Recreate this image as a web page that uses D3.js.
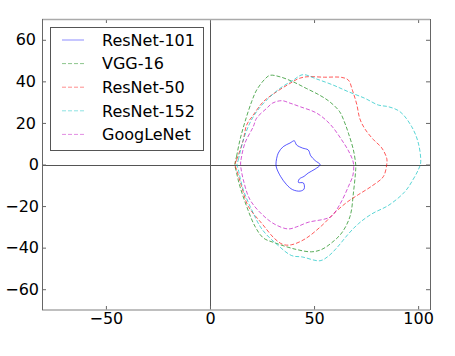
<!DOCTYPE html>
<html><head><meta charset="utf-8">
<script src="https://cdn.jsdelivr.net/npm/d3@7"></script>
<style>body{margin:0;background:#fff}svg{display:block}text{font-family:"DejaVu Sans",sans-serif}</style>
</head><body>
<svg id="c" width="455" height="356"></svg>
<script>
const seriesNames = ["ResNet-101","VGG-16","ResNet-50","ResNet-152","GoogLeNet"];
const seriesColors = ["#0000ff","#008000","#ff0000","#00bfbf","#bf00bf"];
const resnet101 = [[31.7,0.3],[32.8,5.5],[35.2,8.6],[38.4,10.3],[40.5,11.4],[41.6,9.4],[44.5,7.9],[47.2,7.0],[48.4,4.2],[50.5,1.9],[52.9,-0.1],[50.5,-2.2],[47.2,-4.1],[45.2,-5.7],[42.9,-7.0],[42.5,-8.6],[44.9,-8.9],[45.2,-11.8],[43.3,-12.8],[39.7,-12.1],[36.8,-9.7],[33.9,-5.7],[32.0,-1.7]];
const vgg16 = [[12.0,0],[12.8,4],[14.4,11.8],[16.8,20.5],[20.0,30.2],[22.4,35.8],[26.4,41.1],[28.8,42.9],[33.6,42.2],[39.9,39.8],[46.3,36.6],[52.6,33.4],[57.5,30.2],[62.3,25.4],[64.8,19.9],[66.5,15.1],[68.9,7.0],[70.0,0],[70.0,-2.5],[68.9,-13.7],[67.3,-24.9],[63.3,-32.9],[58.4,-37.7],[53.6,-40.9],[48.8,-42.0],[41.6,-40.9],[31.2,-37.7],[25.6,-35.3],[21.6,-29.7],[17.6,-20.1],[14.4,-10.6],[12.8,-4.1]];
const resnet50 = [[12.0,0],[12.8,2.2],[16.0,11.8],[17.6,19.0],[20.8,23.8],[25.6,30.2],[32.0,35.0],[38.4,39.0],[42.5,41.3],[46.5,42.2],[55,42],[63.3,41.9],[66.5,40.6],[68.5,35.5],[70.5,29],[72.0,22],[74.5,17],[78.5,12],[82.5,8],[84.9,3],[84.9,0],[83.3,-5.8],[78,-10.2],[71.3,-14.5],[66,-18],[60.1,-23.0],[53.7,-29.4],[45.7,-35.8],[39.2,-38.6],[35.2,-38.5],[31.2,-35.8],[25.1,-28.6],[18.4,-20.1],[15.2,-10.6],[12.8,-2.5]];
const resnet152 = [[13.0,0],[13.6,2.2],[16.0,11.8],[19.2,20],[22.4,25.4],[27.2,31.0],[33.6,36.6],[40.0,40.6],[44.6,43.2],[51.3,41.1],[59.2,38.2],[66.5,35.0],[74.5,31.8],[80.9,28.6],[85.7,27.8],[91.3,25.4],[96.9,18.2],[100.1,10.3],[101.2,0.7],[100.1,-2.5],[97.7,-7],[93.7,-13],[86,-19.5],[77.7,-23.8],[71.3,-28.5],[66.5,-33.4],[61,-40],[57,-44],[52.9,-46.3],[44.4,-44.5],[39.2,-43.8],[32.8,-39],[25.1,-31.3],[20.0,-21.7],[16.0,-12.1],[13.6,-2.5]];
const googlenet = [[14.7,0],[14.9,2.2],[16.8,10.3],[20.8,18.2],[22.4,22.3],[27.2,27.0],[30,29.5],[34.5,30.7],[38.5,29.5],[43.3,27.8],[51.3,24.7],[57.7,19.4],[63.3,11.8],[67.1,5.5],[68.9,0.7],[68.7,-5],[66.5,-10.6],[62.5,-19],[58.4,-24.9],[55.3,-26.2],[47.2,-27.8],[41.6,-30.0],[37.6,-31.0],[31.2,-28.8],[25.1,-24.1],[19.2,-16.9],[16.0,-7.3]];
const seriesData = [resnet101, vgg16, resnet50, resnet152, googlenet];
const xTicks = [-50, 0, 50, 100];
const yTicks = [-60, -40, -20, 0, 20, 40, 60];

const svg = d3.select("#c");
const L = 42, R = 430, T = 19, B = 310;
const x = d3.scaleLinear().domain([-80.7, 105.7]).range([L, R]);
const y = d3.scaleLinear().domain([-70, 70]).range([B, T]);
const fmt = d => d < 0 ? "\u2212" + Math.abs(d) : String(d);

// zero lines
svg.append("line").attr("x1", L).attr("x2", R).attr("y1", Math.round(y(0)) + 0.5).attr("y2", Math.round(y(0)) + 0.5).attr("stroke", "#555").attr("stroke-width", 1);
svg.append("line").attr("y1", T).attr("y2", B).attr("x1", Math.round(x(0)) + 0.5).attr("x2", Math.round(x(0)) + 0.5).attr("stroke", "#555").attr("stroke-width", 1);

// curves
const line = d3.line().x(d => x(d[0])).y(d => y(d[1])).curve(d3.curveCatmullRomClosed.alpha(0.5));
seriesData.forEach((s, i) => {
  svg.append("path").attr("d", line(s)).attr("fill", "none")
    .attr("stroke", seriesColors[i]).attr("stroke-opacity", 0.65).attr("stroke-width", 1)
    .attr("stroke-dasharray", i === 0 ? null : "4,2");
});

// axes (ticks inward on all sides)
const tl = 4;
const gB = svg.append("g").attr("transform", `translate(0,${B})`).call(d3.axisBottom(x).tickValues(xTicks).tickSizeInner(-tl).tickSizeOuter(0).tickPadding(3).tickFormat(fmt));
const gT = svg.append("g").attr("transform", `translate(0,${T})`).call(d3.axisTop(x).tickValues(xTicks).tickSizeInner(-tl).tickSizeOuter(0).tickFormat(""));
const gL = svg.append("g").attr("transform", `translate(${L},0)`).call(d3.axisLeft(y).tickValues(yTicks).tickSizeInner(-tl).tickSizeOuter(0).tickPadding(3).tickFormat(fmt));
const gR = svg.append("g").attr("transform", `translate(${R},0)`).call(d3.axisRight(y).tickValues(yTicks).tickSizeInner(-tl).tickSizeOuter(0).tickFormat(""));
[gB, gT, gL, gR].forEach(g => {
  g.select(".domain").remove();
  g.selectAll(".tick line").attr("stroke", "#666");
  g.selectAll("text").attr("font-size", 16).attr("fill", "#000").attr("font-family", "DejaVu Sans");
});
gB.selectAll("text").attr("dy", "0.71em");
gL.selectAll(".tick text").attr("x", d => d > 0 ? -6 : -3);

// spines
svg.append("line").attr("x1", L).attr("x2", R).attr("y1", T + 0.5).attr("y2", T + 0.5).attr("stroke", "#aaa").attr("stroke-width", 1.5);
svg.append("line").attr("x1", L).attr("x2", R).attr("y1", B).attr("y2", B).attr("stroke", "#aaa").attr("stroke-width", 1.5);
svg.append("line").attr("x1", L + 0.5).attr("x2", L + 0.5).attr("y1", T).attr("y2", B).attr("stroke", "#666").attr("stroke-width", 1);
svg.append("line").attr("x1", R + 0.5).attr("x2", R + 0.5).attr("y1", T).attr("y2", B).attr("stroke", "#666").attr("stroke-width", 1);

// legend
const lg = svg.append("g");
lg.append("rect").attr("x", 50.5).attr("y", 27.5).attr("width", 153).attr("height", 123)
  .attr("fill", "#fff").attr("stroke", "#555").attr("stroke-width", 1);
const rowY = i => 40 + i * 23.6;
seriesNames.forEach((n, i) => {
  lg.append("line").attr("x1", 62).attr("x2", 84).attr("y1", rowY(i)).attr("y2", rowY(i))
    .attr("stroke", seriesColors[i]).attr("stroke-opacity", 0.45).attr("stroke-width", 1)
    .attr("stroke-dasharray", i === 0 ? null : "4,2");
  lg.append("text").attr("x", 102).attr("y", rowY(i)).attr("dy", "0.36em")
    .attr("font-size", 16).attr("fill", "#000").text(n);
});
</script>
</body></html>
